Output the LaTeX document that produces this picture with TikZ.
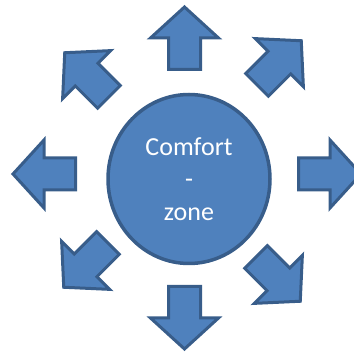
\documentclass[tikz,border=0pt]{standalone}
\usepackage{fontspec}
\setmainfont{Carlito}
\usetikzlibrary{shapes.geometric}
\definecolor{zonefill}{RGB}{79,129,189}
\definecolor{zoneline}{RGB}{56,93,138}
\tikzset{
	burstarrow/.style={fill=zonefill, draw=zoneline, line width=3pt, line join=miter},
	zonecircle/.style={ellipse, fill=zonefill, draw=zoneline, line width=3.5pt,
		minimum width=162pt, minimum height=169pt, inner sep=0pt,
		text=white, align=center, font=\fontsize{26}{32.5}\selectfont}
}
\begin{document}
\begin{tikzpicture}[x=1pt,y=-1pt]
		\useasboundingbox (0,0) rectangle (354,352);
		\node[zonecircle] (zone) at (189,179) {Comfort\\-\\zone};
		\foreach \px/\py/\ang in {184.5/71/90, 184.5/285/270, 77/174/180, 297/174/0,
			256/86/45, 255/256/-45, 110/98/135, 109/242/225}{
			\begin{scope}[shift={(\px,\py)}, rotate=\ang]
				\draw[burstarrow] (1.5,-16) -- (33,-16) -- (33,-34) -- (64,0) -- (33,34) -- (33,16) -- (1.5,16) -- cycle;
			\end{scope}
		}
		\end{tikzpicture}
\end{document}
